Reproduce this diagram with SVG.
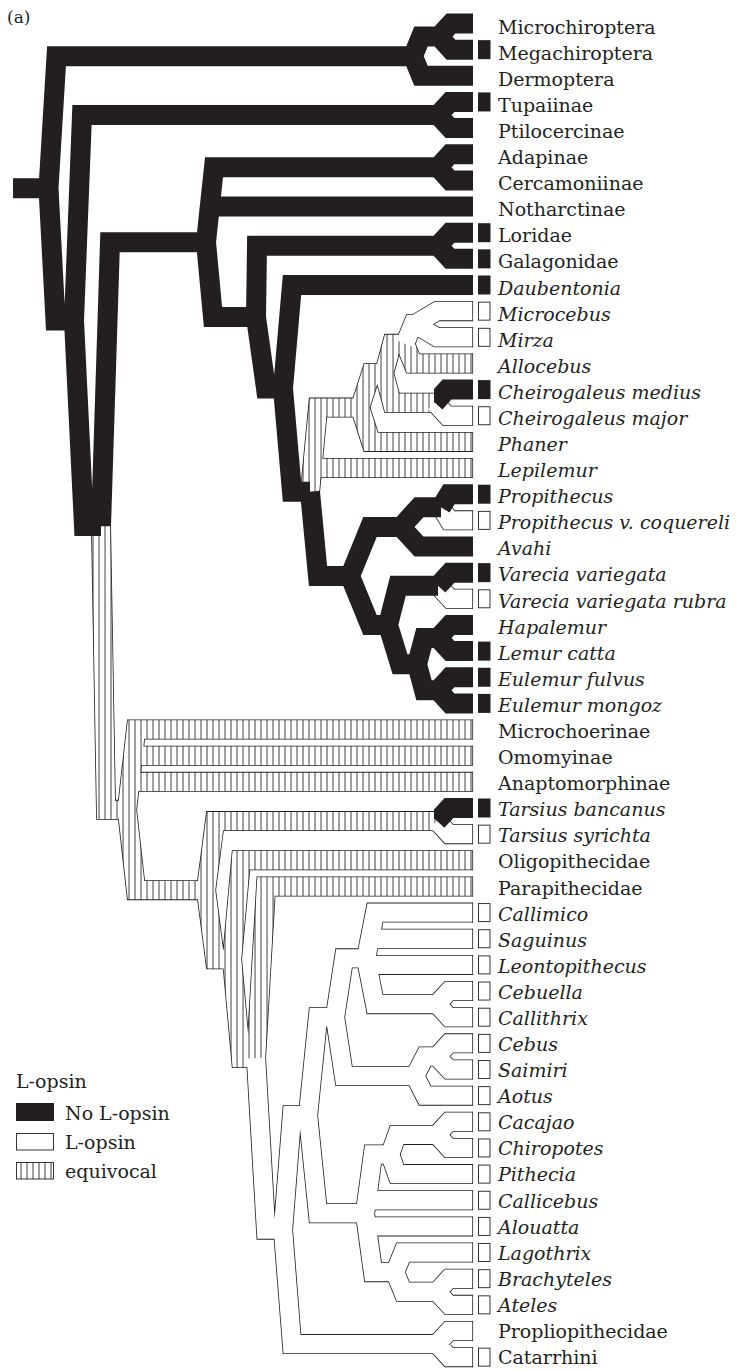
<svg xmlns="http://www.w3.org/2000/svg" width="736" height="1370" viewBox="0 0 736 1370">
<style>
.lbl{font-family:"DejaVu Serif","Liberation Serif",serif;font-size:19px;fill:#231f20}
.it{font-style:italic}
.ol{fill:none;stroke:#231f20;stroke-width:20;stroke-linejoin:miter}
.inW{fill:none;stroke:#fff;stroke-width:18.4;stroke-linejoin:miter}
.inH{fill:none;stroke:url(#hatch);stroke-width:18.4;stroke-linejoin:miter}
.blk{fill:none;stroke:#231f20;stroke-width:20;stroke-linejoin:miter}
.ends{fill:none;stroke:#231f20;stroke-width:0.8}
.bxB{fill:#231f20}
.bxW{fill:#fff;stroke:#231f20;stroke-width:0.9}
</style>
<defs>
<pattern id="hatch" patternUnits="userSpaceOnUse" width="6" height="20"><rect width="6" height="20" fill="#fff"/><rect x="2.6" y="0" width="0.85" height="20" fill="#231f20"/></pattern>
<clipPath id="cTip"><rect x="434" y="0" width="60" height="1370"/></clipPath>
<path id="pH" d="M101 526.02L106 809.84H127 M310 491.75L318 407.58H360 M310 491.75L312.25 468.05H473 M360 407.58L371 373.26H384 M360 407.58L371 441.9H473 M384 373.26L392 343.84H405 M384 373.26L392 402.675H435 M405 343.84L413 363.45H473 M127 809.84L136 729.55H473 M127 809.84L133.07 755.7H473 M127 809.84L130.14 781.85H473 M127 809.84L136 890.13H206 M206 890.13L215 821.075H437 M206 890.13L215 959.18H232 M232 959.18L241 860.3H473 M232 959.18L241 1058.06H256 M256 1058.06L266 886.45H473"/>
<path id="pW" d="M405 343.84L413 324.225H415 M415 324.225L437 311.15H473 M415 324.225L437 337.3H473 M435 402.675L447 415.75H473 M441 507.275L449 520.35H473 M438 585.725L450 598.8H473 M437 821.075L449 834.15H473 M256 1058.06L266 1229.67H283 M283 1229.67L292 1115.26H308 M283 1229.67L292 1344.075H437 M437 1344.075L449 1331H473 M437 1344.075L449 1357.15H473 M308 1115.26L318 1017.2H335 M308 1115.26L318 1213.32H365 M335 1017.2L344 958.36H366 M335 1017.2L344 1076.04H415 M366 958.36L375 912.6H473 M366 958.36L369.86 938.75H473 M366 958.36L367.29 964.9H473 M366 958.36L375 1004.125H437 M437 1004.125L449 991.05H473 M437 1004.125L449 1017.2H473 M415 1076.04L425 1056.425H437 M415 1076.04L425 1095.65H473 M437 1056.425L449 1043.35H473 M437 1056.425L449 1069.5H473 M365 1213.32L373 1154.49H390 M365 1213.32L366.8 1200.25H473 M365 1213.32L366.8 1226.4H473 M365 1213.32L373 1272.16H395 M390 1154.49L397 1134.875H437 M390 1154.49L397 1174.1H473 M437 1134.875L449 1121.8H473 M437 1134.875L449 1147.95H473 M395 1272.16L403 1252.55H473 M395 1272.16L403 1291.775H437 M437 1291.775L449 1278.7H473 M437 1291.775L449 1304.85H473"/>
</defs>
<text x="7" y="23" style="font-family:'DejaVu Serif','Liberation Serif',serif;font-size:17px;fill:#231f20">(a)</text>
<g id="connectors">
<use href="#pH" class="ol"/>
<use href="#pW" class="ol"/>
<use href="#pH" class="inH"/>
<use href="#pW" class="inW"/>
<path class="ends" d="M472.6 301.15V321.15M472.6 327.3V347.3M472.6 353.45V373.45M472.6 405.75V425.75M472.6 431.9V451.9M472.6 458.05V478.05M472.6 510.35V530.35M472.6 588.8V608.8M472.6 719.55V739.55M472.6 745.7V765.7M472.6 771.85V791.85M472.6 824.15V844.15M472.6 850.3V870.3M472.6 876.45V896.45M472.6 902.6V922.6M472.6 928.75V948.75M472.6 954.9V974.9M472.6 981.05V1001.05M472.6 1007.2V1027.2M472.6 1033.35V1053.35M472.6 1059.5V1079.5M472.6 1085.65V1105.65M472.6 1111.8V1131.8M472.6 1137.95V1157.95M472.6 1164.1V1184.1M472.6 1190.25V1210.25M472.6 1216.4V1236.4M472.6 1242.55V1262.55M472.6 1268.7V1288.7M472.6 1294.85V1314.85M472.6 1321V1341M472.6 1347.15V1367.15"/>
<path class="blk" d="M13 188.36H48.5 M48.5 188.36L56.5 56.19H413 M48.5 188.36L55.5 320.52H74 M413 56.19L421 36.575H439 M413 56.19L421 75.8H473 M439 36.575L451 23.5H473 M439 36.575L451 49.65H473 M74 320.52L82 115.025H438 M74 320.52L84 526.02H101 M438 115.025L450 101.95H473 M438 115.025L450 128.1H473 M101 526.02L110 242.2H206 M206 242.2L214 167.325H438 M206 242.2L209.8 206.55H473 M206 242.2L213 317.075H256 M438 167.325L450 154.25H473 M438 167.325L450 180.4H473 M256 317.075L257 245.775H438 M256 317.075L266 388.375H283 M438 245.775L450 232.7H473 M438 245.775L450 258.85H473 M283 388.375L292 285H473 M283 388.375L292 491.75H310 M310 491.75L318 575.92H350 M350 575.92L370 526.89H401 M350 575.92L370 624.95H388 M401 526.89L419 507.275H441 M401 526.89L419 546.5H473 M441 507.275L449 494.2H473 M388 624.95L398 585.725H438 M388 624.95L400 664.175H417 M438 585.725L450 572.65H473 M417 664.175L424 638.025H438 M417 664.175L424 690.325H438 M438 638.025L450 624.95H473 M438 638.025L450 651.1H473 M438 690.325L450 677.25H473 M438 690.325L450 703.4H473"/>
<path class="blk" clip-path="url(#cTip)" d="M435 402.675L447 389.6H473 M437 821.075L449 808H473"/>
</g>
<g id="t01"><text class="lbl" x="498" y="33.7">Microchiroptera</text></g>
<g id="t02"><rect class="bxB" x="478" y="40.15" width="12.5" height="19"/><text class="lbl" x="498" y="59.79">Megachiroptera</text></g>
<g id="t03"><text class="lbl" x="498" y="85.87">Dermoptera</text></g>
<g id="t04"><rect class="bxB" x="478" y="92.45" width="12.5" height="19"/><text class="lbl" x="498" y="111.96">Tupaiinae</text></g>
<g id="t05"><text class="lbl" x="498" y="138.04">Ptilocercinae</text></g>
<g id="t06"><text class="lbl" x="498" y="164.13">Adapinae</text></g>
<g id="t07"><text class="lbl" x="498" y="190.21">Cercamoniinae</text></g>
<g id="t08"><text class="lbl" x="498" y="216.3">Notharctinae</text></g>
<g id="t09"><rect class="bxB" x="478" y="223.2" width="12.5" height="19"/><text class="lbl" x="498" y="242.38">Loridae</text></g>
<g id="t10"><rect class="bxB" x="478" y="249.35" width="12.5" height="19"/><text class="lbl" x="498" y="268.47">Galagonidae</text></g>
<g id="t11"><rect class="bxB" x="478" y="275.5" width="12.5" height="19"/><text class="lbl it" x="498" y="294.55">Daubentonia</text></g>
<g id="t12"><rect class="bxW" x="478.5" y="302.15" width="11.5" height="18"/><text class="lbl it" x="498" y="320.64">Microcebus</text></g>
<g id="t13"><rect class="bxW" x="478.5" y="328.3" width="11.5" height="18"/><text class="lbl it" x="498" y="346.72">Mirza</text></g>
<g id="t14"><text class="lbl it" x="498" y="372.81">Allocebus</text></g>
<g id="t15"><rect class="bxB" x="478" y="380.1" width="12.5" height="19"/><text class="lbl it" x="498" y="398.89">Cheirogaleus medius</text></g>
<g id="t16"><rect class="bxW" x="478.5" y="406.75" width="11.5" height="18"/><text class="lbl it" x="498" y="424.98">Cheirogaleus major</text></g>
<g id="t17"><text class="lbl it" x="498" y="451.06">Phaner</text></g>
<g id="t18"><text class="lbl it" x="498" y="477.15">Lepilemur</text></g>
<g id="t19"><rect class="bxB" x="478" y="484.7" width="12.5" height="19"/><text class="lbl it" x="498" y="503.23">Propithecus</text></g>
<g id="t20"><rect class="bxW" x="478.5" y="511.35" width="11.5" height="18"/><text class="lbl it" x="498" y="529.32">Propithecus v. coquereli</text></g>
<g id="t21"><text class="lbl it" x="498" y="555.4">Avahi</text></g>
<g id="t22"><rect class="bxB" x="478" y="563.15" width="12.5" height="19"/><text class="lbl it" x="498" y="581.49">Varecia variegata</text></g>
<g id="t23"><rect class="bxW" x="478.5" y="589.8" width="11.5" height="18"/><text class="lbl it" x="498" y="607.57">Varecia variegata rubra</text></g>
<g id="t24"><text class="lbl it" x="498" y="633.66">Hapalemur</text></g>
<g id="t25"><rect class="bxB" x="478" y="641.6" width="12.5" height="19"/><text class="lbl it" x="498" y="659.74">Lemur catta</text></g>
<g id="t26"><rect class="bxB" x="478" y="667.75" width="12.5" height="19"/><text class="lbl it" x="498" y="685.83">Eulemur fulvus</text></g>
<g id="t27"><rect class="bxB" x="478" y="693.9" width="12.5" height="19"/><text class="lbl it" x="498" y="711.91">Eulemur mongoz</text></g>
<g id="t28"><text class="lbl" x="498" y="738">Microchoerinae</text></g>
<g id="t29"><text class="lbl" x="498" y="764.08">Omomyinae</text></g>
<g id="t30"><text class="lbl" x="498" y="790.17">Anaptomorphinae</text></g>
<g id="t31"><rect class="bxB" x="478" y="798.5" width="12.5" height="19"/><text class="lbl it" x="498" y="816.25">Tarsius bancanus</text></g>
<g id="t32"><rect class="bxW" x="478.5" y="825.15" width="11.5" height="18"/><text class="lbl it" x="498" y="842.34">Tarsius syrichta</text></g>
<g id="t33"><text class="lbl" x="498" y="868.42">Oligopithecidae</text></g>
<g id="t34"><text class="lbl" x="498" y="894.51">Parapithecidae</text></g>
<g id="t35"><rect class="bxW" x="478.5" y="903.6" width="11.5" height="18"/><text class="lbl it" x="498" y="920.59">Callimico</text></g>
<g id="t36"><rect class="bxW" x="478.5" y="929.75" width="11.5" height="18"/><text class="lbl it" x="498" y="946.68">Saguinus</text></g>
<g id="t37"><rect class="bxW" x="478.5" y="955.9" width="11.5" height="18"/><text class="lbl it" x="498" y="972.76">Leontopithecus</text></g>
<g id="t38"><rect class="bxW" x="478.5" y="982.05" width="11.5" height="18"/><text class="lbl it" x="498" y="998.85">Cebuella</text></g>
<g id="t39"><rect class="bxW" x="478.5" y="1008.2" width="11.5" height="18"/><text class="lbl it" x="498" y="1024.93">Callithrix</text></g>
<g id="t40"><rect class="bxW" x="478.5" y="1034.35" width="11.5" height="18"/><text class="lbl it" x="498" y="1051.02">Cebus</text></g>
<g id="t41"><rect class="bxW" x="478.5" y="1060.5" width="11.5" height="18"/><text class="lbl it" x="498" y="1077.1">Saimiri</text></g>
<g id="t42"><rect class="bxW" x="478.5" y="1086.65" width="11.5" height="18"/><text class="lbl it" x="498" y="1103.19">Aotus</text></g>
<g id="t43"><rect class="bxW" x="478.5" y="1112.8" width="11.5" height="18"/><text class="lbl it" x="498" y="1129.27">Cacajao</text></g>
<g id="t44"><rect class="bxW" x="478.5" y="1138.95" width="11.5" height="18"/><text class="lbl it" x="498" y="1155.36">Chiropotes</text></g>
<g id="t45"><rect class="bxW" x="478.5" y="1165.1" width="11.5" height="18"/><text class="lbl it" x="498" y="1181.44">Pithecia</text></g>
<g id="t46"><rect class="bxW" x="478.5" y="1191.25" width="11.5" height="18"/><text class="lbl it" x="498" y="1207.53">Callicebus</text></g>
<g id="t47"><rect class="bxW" x="478.5" y="1217.4" width="11.5" height="18"/><text class="lbl it" x="498" y="1233.61">Alouatta</text></g>
<g id="t48"><rect class="bxW" x="478.5" y="1243.55" width="11.5" height="18"/><text class="lbl it" x="498" y="1259.7">Lagothrix</text></g>
<g id="t49"><rect class="bxW" x="478.5" y="1269.7" width="11.5" height="18"/><text class="lbl it" x="498" y="1285.78">Brachyteles</text></g>
<g id="t50"><rect class="bxW" x="478.5" y="1295.85" width="11.5" height="18"/><text class="lbl it" x="498" y="1311.87">Ateles</text></g>
<g id="t51"><text class="lbl" x="498" y="1337.95">Propliopithecidae</text></g>
<g id="t52"><rect class="bxW" x="478.5" y="1348.15" width="11.5" height="18"/><text class="lbl" x="498" y="1364.04">Catarrhini</text></g>
<g id="legend">
<text class="lbl" x="16" y="1088">L-opsin</text>
<rect x="16" y="1103" width="38" height="18" fill="#231f20"/>
<text class="lbl" x="65" y="1120">No L-opsin</text>
<rect x="16.5" y="1133.5" width="37" height="16.5" fill="#fff" stroke="#231f20" stroke-width="0.9"/>
<text class="lbl" x="65" y="1149">L-opsin</text>
<rect x="16.5" y="1162.5" width="37" height="16.5" fill="url(#hatch)" stroke="#231f20" stroke-width="0.9"/>
<text class="lbl" x="65" y="1178">equivocal</text>
</g>
</svg>
